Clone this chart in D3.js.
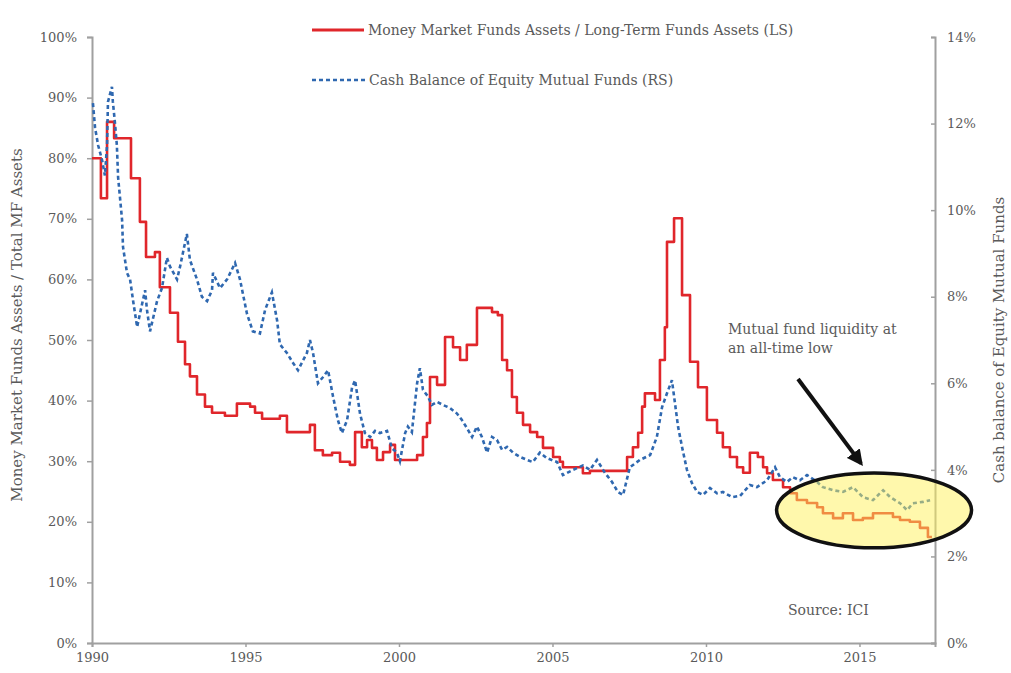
<!DOCTYPE html>
<html><head><meta charset="utf-8">
<script src="https://cdn.jsdelivr.net/npm/d3@7"></script>
<style>
body{margin:0;background:#fff;}
svg text{font-family:"DejaVu Serif","Liberation Serif",serif;fill:#5a5a5a;}
</style></head>
<body><svg id="c" width="1011" height="673"></svg>
<script>
// ---- data ----
const redYears = [1990.00,1990.29,1990.49,1990.72,1991.27,1991.56,1991.76,1992.05,1992.21,1992.54,1992.80,1993.03,1993.19,1993.42,1993.68,1993.91,1994.33,1994.72,1995.15,1995.31,1995.54,1996.12,1996.35,1997.10,1997.26,1997.52,1997.82,1998.08,1998.40,1998.57,1998.79,1998.96,1999.12,1999.28,1999.48,1999.71,1999.87,2000.59,2000.78,2000.91,2001.01,2001.24,2001.50,2001.76,2001.99,2002.21,2002.54,2003.03,2003.22,2003.36,2003.52,2003.68,2003.84,2004.04,2004.27,2004.50,2004.69,2005.02,2005.24,2005.34,2005.99,2006.22,2007.43,2007.62,2007.79,2007.92,2008.01,2008.34,2008.50,2008.66,2008.73,2008.96,2009.22,2009.48,2009.74,2010.03,2010.36,2010.55,2010.78,2011.01,2011.21,2011.43,2011.69,2011.86,2011.99,2012.18,2012.51,2012.74,2012.96,2013.29,2013.62,2013.81,2014.14,2014.46,2014.79,2015.11,2015.44,2016.09,2016.32,2016.64,2016.97,2017.23,2017.36];
const redValues = [80,73.4,86,83.3,76.7,69.5,63.7,64.5,58.7,54.5,49.7,46,44,41,39,38,37.5,39.5,39,38,37,37.5,34.8,36,31.8,31,31.4,29.9,29.4,34.8,32.3,33.5,32.2,30.2,31.5,32.7,30.2,31,34,36.3,43.9,42.6,50.5,48.8,46.7,49.2,55.3,54.6,54.1,46.7,45,40.6,38,36,34.8,34,32.2,30.7,29.9,29,28,28.4,30.7,32.3,34.7,39,41.2,40.1,46.7,52.1,66.2,70.1,57.4,46.4,42.2,36.8,34.7,32.3,30.7,29,28.1,31.4,30.7,29,28,26.9,25.7,24.7,23.6,23.1,22.4,21.4,20.6,21.4,20.3,20.6,21.4,20.8,20.3,20,19,17.5,17.5];

const blueYears = [1990.03,1990.10,1990.20,1990.33,1990.42,1990.49,1990.52,1990.65,1990.68,1990.75,1990.81,1990.85,1990.98,1991.01,1991.14,1991.24,1991.34,1991.47,1991.56,1991.73,1991.79,1991.89,1992.12,1992.28,1992.44,1992.54,1992.77,1992.87,1993.09,1993.19,1993.42,1993.58,1993.75,1993.91,1993.94,1994.17,1994.40,1994.66,1994.82,1995.05,1995.24,1995.47,1995.64,1995.86,1996.03,1996.12,1996.35,1996.55,1996.71,1997.00,1997.10,1997.20,1997.36,1997.52,1997.69,1997.85,1998.01,1998.14,1998.31,1998.47,1998.57,1998.73,1998.89,1999.06,1999.22,1999.38,1999.61,1999.77,1999.93,2000.03,2000.20,2000.29,2000.42,2000.59,2000.68,2000.78,2000.94,2001.07,2001.24,2001.43,2001.66,2001.89,2002.05,2002.21,2002.38,2002.54,2002.70,2002.87,2003.03,2003.19,2003.36,2003.52,2003.71,2003.94,2004.17,2004.36,2004.59,2004.82,2005.15,2005.34,2005.67,2005.99,2006.22,2006.45,2006.71,2006.94,2007.13,2007.30,2007.52,2007.85,2008.18,2008.40,2008.57,2008.73,2008.89,2008.99,2009.09,2009.22,2009.38,2009.54,2009.71,2009.90,2010.13,2010.36,2010.55,2010.85,2011.11,2011.43,2011.66,2011.99,2012.25,2012.41,2012.64,2012.83,2013.06,2013.29,2013.62,2013.81,2014.14,2014.46,2014.79,2015.11,2015.44,2015.77,2016.00,2016.32,2016.55,2016.74,2017.07,2017.30];
const blueValues = [12.47,11.9,11.5,11.15,10.8,11.5,12.5,12.85,12.5,12.0,11.5,10.76,9.77,9.15,8.55,8.4,7.9,7.3,7.6,8.15,7.7,7.2,7.9,8.2,8.9,8.7,8.4,8.7,9.45,8.85,8.4,8.0,7.9,8.15,8.55,8.2,8.4,8.78,8.4,7.6,7.2,7.15,7.7,8.1,7.45,6.9,6.7,6.47,6.3,6.7,7.0,6.7,6.0,6.14,6.3,5.7,5.15,4.85,5.15,5.9,6.07,5.3,4.85,4.76,4.9,4.85,4.9,4.5,4.4,4.2,4.85,5.0,4.87,6.0,6.35,5.85,5.7,5.5,5.57,5.5,5.43,5.3,5.15,4.97,4.76,5.0,4.76,4.4,4.76,4.69,4.46,4.53,4.4,4.3,4.23,4.18,4.4,4.27,4.18,3.88,4.0,4.1,4.0,4.23,3.93,3.72,3.49,3.42,4.06,4.23,4.34,4.76,5.45,5.77,6.07,5.54,5.0,4.53,4.0,3.7,3.49,3.42,3.58,3.46,3.49,3.37,3.4,3.65,3.6,3.76,4.06,3.83,3.72,3.83,3.76,3.88,3.72,3.6,3.53,3.49,3.6,3.37,3.3,3.53,3.37,3.23,3.07,3.23,3.26,3.3];

const leftTicks = [0,10,20,30,40,50,60,70,80,90,100];
const rightTicks = [0,2,4,6,8,10,12,14];
const yearTicks = [1990,1995,2000,2005,2010,2015];
const seriesNames = ["Money Market Funds Assets / Long-Term Funds Assets (LS)","Cash Balance of Equity Mutual Funds (RS)"];
const leftTitle = "Money Market Funds Assets / Total MF Assets";
const rightTitle = "Cash balance of Equity Mutual Funds";
const noteLines = ["Mutual fund liquidity at","an all-time low"];
const sourceText = "Source: ICI";
const highlight = {from:2012.3, to:2018.65, lo:2.2, hi:3.93}; // region on right-axis scale

// ---- layout ----
const L=92, R=935, T=37, B=643;
const svg = d3.select("#c");
const x = d3.scaleLinear().domain([1990,2017.46]).range([L,R]);
const yL = d3.scaleLinear().domain([0,100]).range([B,T]);
const yR = d3.scaleLinear().domain([0,14]).range([B,T]);
const axisCol = "#a0a0a0";

// axes
const gL = svg.append("g").attr("transform",`translate(${L},0)`)
  .call(d3.axisLeft(yL).tickValues(leftTicks).tickFormat(d=>d+"%").tickSize(5).tickPadding(10));
const gR = svg.append("g").attr("transform",`translate(${R},0)`)
  .call(d3.axisRight(yR).tickValues(rightTicks).tickFormat(d=>d+"%").tickSize(-4).tickPadding(12));
const gX = svg.append("g").attr("transform",`translate(0,${B})`)
  .call(d3.axisBottom(x).tickValues(yearTicks).tickFormat(d3.format("d")).tickSize(4).tickPadding(6));
[gL,gR,gX].forEach(g=>{
  g.select(".domain").attr("stroke",axisCol).attr("stroke-width",2);
  g.selectAll(".tick line").attr("stroke",axisCol).attr("stroke-width",1.5);
  g.selectAll("text").attr("font-size",13).attr("fill","#5a5a5a").style("font-family","DejaVu Serif, serif");
});

// lines
const redData = redYears.map((d,i)=>[d,redValues[i]]);
const blueData = blueYears.map((d,i)=>[d,blueValues[i]]);
svg.append("path").datum(redData)
  .attr("d",d3.line().x(d=>x(d[0])).y(d=>yL(d[1])).curve(d3.curveStepAfter))
  .attr("fill","none").attr("stroke","#e0262b").attr("stroke-width",2.6).attr("stroke-linejoin","round");
svg.append("path").datum(blueData)
  .attr("d",d3.line().x(d=>x(d[0])).y(d=>yR(d[1])))
  .attr("fill","none").attr("stroke","#2f68b0").attr("stroke-width",2.6).attr("stroke-dasharray","4,3");

// highlight ellipse
const ex0=x(highlight.from), ex1=x(highlight.to), ey0=yR(highlight.hi), ey1=yR(highlight.lo);
svg.append("ellipse").attr("cx",(ex0+ex1)/2).attr("cy",(ey0+ey1)/2)
  .attr("rx",(ex1-ex0)/2).attr("ry",(ey1-ey0)/2)
  .attr("fill","#fff25a").attr("fill-opacity",0.5).attr("stroke","#111").attr("stroke-width",3.5);

// arrow
svg.append("defs").append("marker").attr("id","ah").attr("viewBox","0 0 10 10")
  .attr("refX",8).attr("refY",5).attr("markerWidth",4).attr("markerHeight",4).attr("orient","auto")
  .append("path").attr("d","M0,0 L10,5 L0,10 z").attr("fill","#111");
svg.append("line").attr("x1",x(2015.05)-63).attr("y1",yR(6.1)).attr("x2",x(2015.05)).attr("y2",yR(4.15))
  .attr("stroke","#111").attr("stroke-width",4).attr("marker-end","url(#ah)");

// annotation
const nt = svg.append("text").attr("x",728).attr("y",334).attr("font-size",14);
noteLines.forEach((s,i)=>nt.append("tspan").attr("x",728).attr("dy",i?19:0).text(s));
svg.append("text").attr("x",788).attr("y",615).attr("font-size",14).text(sourceText);

// legend
const lg = svg.append("g");
lg.append("line").attr("x1",312).attr("x2",364).attr("y1",30).attr("y2",30).attr("stroke","#e0262b").attr("stroke-width",3);
lg.append("text").attr("x",368).attr("y",35).attr("font-size",14).text(seriesNames[0]);
lg.append("line").attr("x1",312).attr("x2",366).attr("y1",80).attr("y2",80).attr("stroke","#2f68b0").attr("stroke-width",2.6).attr("stroke-dasharray","4,3");
lg.append("text").attr("x",369).attr("y",85).attr("font-size",14).text(seriesNames[1]);

// axis titles
svg.append("text").attr("transform","translate(22,325) rotate(-90)").attr("text-anchor","middle").attr("font-size",15).text(leftTitle);
svg.append("text").attr("transform","translate(1004,340) rotate(-90)").attr("text-anchor","middle").attr("font-size",15).text(rightTitle);
</script></body></html>
